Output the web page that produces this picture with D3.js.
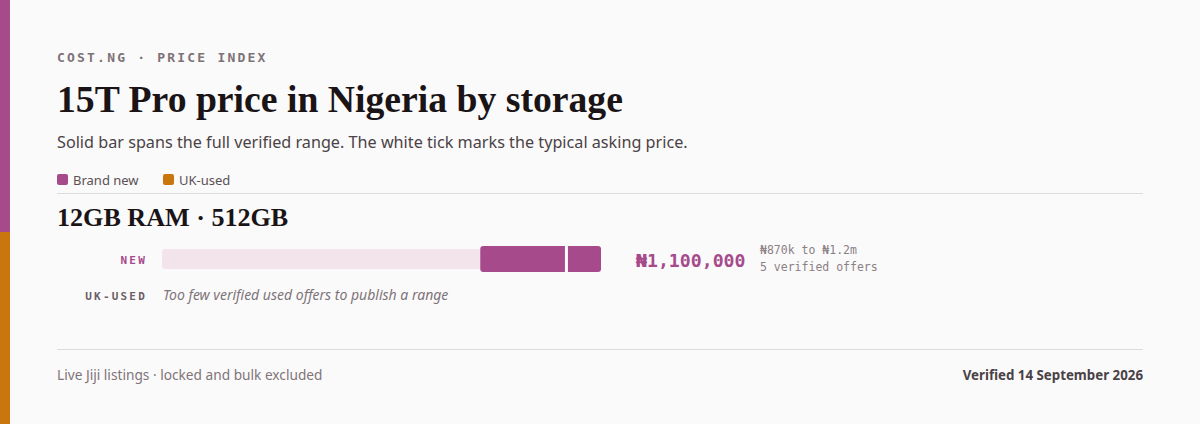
<!DOCTYPE html>
<html><head><meta charset="utf-8">
<script src="https://cdn.jsdelivr.net/npm/d3@7"></script>
<style>
html,body{margin:0;padding:0;background:#fbfafa;}
svg{display:block;}
</style></head>
<body>
<svg id="chart" width="1200" height="424"></svg>
<script>
const conditions = ["Brand new", "UK-used"];
const rowLabels = ["NEW", "UK-USED"];
const lowPrices = [870000, null];
const highPrices = [1200000, null];
const typicalPrices = [1100000, null];
const offerCounts = [5, null];
const rangeLabels = ["₦870k to ₦1.2m", null];
const scaleMax = 1200000;
const colors = ["#a64a8c", "#c9760f"];

const svg = d3.select("#chart");
const W = 1200, H = 424, L = 57, R = 1143;

svg.append("rect").attr("width", W).attr("height", H).attr("fill", "#fbfafa");
svg.append("rect").attr("x", 0).attr("y", 0).attr("width", 10).attr("height", 232).attr("fill", colors[0]);
svg.append("rect").attr("x", 0).attr("y", 232).attr("width", 10).attr("height", H - 232).attr("fill", colors[1]);

const mono = "'DejaVu Sans Mono', 'Liberation Mono', monospace";
const sans = "'Noto Sans', 'Open Sans', sans-serif";
const serif = "'Liberation Serif', 'DejaVu Serif', serif";

svg.append("text").attr("x", L).attr("y", 62).text("COST.NG · PRICE INDEX")
  .attr("font-family", mono).attr("font-size", 13).attr("font-weight", 700)
  .attr("letter-spacing", "2.2px").attr("fill", "#7d7277");

svg.append("text").attr("x", L).attr("y", 112).text("15T Pro price in Nigeria by storage")
  .attr("font-family", serif).attr("font-size", 37.7).attr("font-weight", 700).attr("fill", "#1a1416");

svg.append("text").attr("x", L).attr("y", 148)
  .text("Solid bar spans the full verified range. The white tick marks the typical asking price.")
  .attr("font-family", sans).attr("font-size", 16.2).attr("fill", "#4a4246");

// legend
const leg = svg.append("g");
const legX = [57, 163];
conditions.forEach((c, i) => {
  leg.append("rect").attr("x", legX[i]).attr("y", 174).attr("width", 11).attr("height", 11).attr("rx", 2).attr("fill", colors[i]);
  leg.append("text").attr("x", legX[i] + 16).attr("y", 185).text(c)
    .attr("font-family", sans).attr("font-size", 13).attr("fill", "#5a5055");
});

svg.append("line").attr("x1", L).attr("x2", R).attr("y1", 193.5).attr("y2", 193.5).attr("stroke", "#dedadc");

svg.append("text").attr("x", L).attr("y", 226).text("12GB RAM · 512GB")
  .attr("font-family", serif).attr("font-size", 26.1).attr("font-weight", 700).attr("fill", "#1a1416");

const x = d3.scaleLinear().domain([0, scaleMax]).range([162, 601]);
const rowY = [259, 295];

rowLabels.forEach((lab, i) => {
  svg.append("text").attr("x", 147).attr("y", rowY[i] + 5).attr("text-anchor", "end").text(lab)
    .attr("font-family", mono).attr("font-size", 11).attr("font-weight", 700)
    .attr("letter-spacing", "2.2px").attr("fill", i === 0 ? colors[0] : "#6b6166");
  if (lowPrices[i] != null) {
    svg.append("rect").attr("x", x(0)).attr("y", rowY[i] - 10).attr("width", x(scaleMax) - x(0)).attr("height", 20)
      .attr("rx", 3).attr("fill", "#f3e4ec");
    svg.append("rect").attr("x", x(lowPrices[i])).attr("y", rowY[i] - 13)
      .attr("width", x(highPrices[i]) - x(lowPrices[i])).attr("height", 26).attr("rx", 3).attr("fill", colors[i]);
    svg.append("rect").attr("x", x(typicalPrices[i]) + 0.5).attr("y", rowY[i] - 13).attr("width", 3).attr("height", 26).attr("fill", "#ffffff");
    svg.append("text").attr("x", 636).attr("y", rowY[i] + 8).text("₦" + d3.format(",")(typicalPrices[i]))
      .attr("font-family", mono).attr("font-size", 18.2).attr("font-weight", 700).attr("fill", colors[i]);
    svg.append("text").attr("x", 760).attr("y", rowY[i] - 5).text(rangeLabels[i])
      .attr("font-family", mono).attr("font-size", 11.5).attr("fill", "#8a8085");
    svg.append("text").attr("x", 760).attr("y", rowY[i] + 12).text(offerCounts[i] + " verified offers")
      .attr("font-family", mono).attr("font-size", 11.5).attr("fill", "#8a8085");
  } else {
    svg.append("text").attr("x", 163).attr("y", rowY[i] + 5).text("Too few verified used offers to publish a range")
      .attr("font-family", sans).attr("font-size", 14).attr("font-style", "italic").attr("fill", "#7d7479");
  }
});

svg.append("line").attr("x1", L).attr("x2", R).attr("y1", 349.5).attr("y2", 349.5).attr("stroke", "#dedadc");
svg.append("text").attr("x", L).attr("y", 380).text("Live Jiji listings · locked and bulk excluded")
  .attr("font-family", sans).attr("font-size", 13.7).attr("fill", "#807479");
svg.append("text").attr("x", R).attr("y", 380).attr("text-anchor", "end").text("Verified 14 September 2026")
  .attr("font-family", sans).attr("font-size", 13.3).attr("font-weight", 700).attr("fill", "#4a4246");
</script>
</body></html>
